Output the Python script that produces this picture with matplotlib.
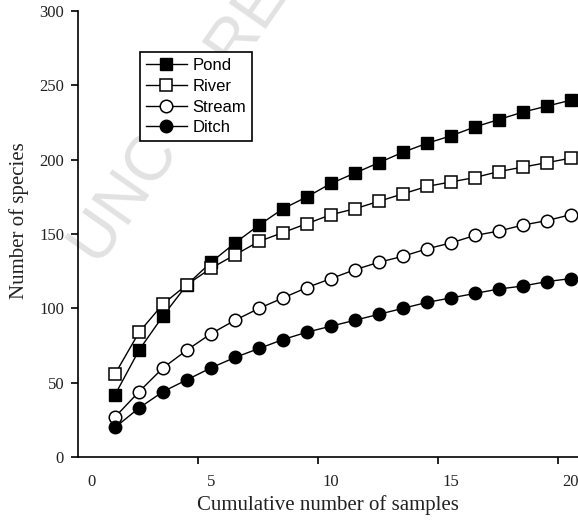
import matplotlib
matplotlib.use("Agg")
import matplotlib.pyplot as plt
import numpy as np

samples = list(range(1, 21))
pond = [42, 72, 95, 116, 131, 144, 156, 167, 175, 184, 191, 198, 205, 211, 216, 222, 227, 232, 236, 240]
river = [56, 84, 103, 116, 127, 136, 145, 151, 157, 163, 167, 172, 177, 182, 185, 188, 192, 195, 198, 201]
stream = [27, 44, 60, 72, 83, 92, 100, 107, 114, 120, 126, 131, 135, 140, 144, 149, 152, 156, 159, 163]
ditch = [20, 33, 44, 52, 60, 67, 73, 79, 84, 88, 92, 96, 100, 104, 107, 110, 113, 115, 118, 120]

x_ticks = [0, 5, 10, 15, 20]
y_ticks = [0, 50, 100, 150, 200, 250, 300]

serif = "Liberation Serif"
sans = "Liberation Sans"

fig = plt.figure(figsize=(5.78, 5.21), dpi=100)
ax = fig.add_axes([78/578, 1-457/521, 500/578, 446/521])

# faint watermark behind everything
fig.text(100/578, 1-268/521, "UNCORRECTED PROOF", rotation=55, rotation_mode="anchor",
         color="#e2e2e2", fontsize=47, family=sans, ha="left", va="baseline", zorder=-1)
ax.patch.set_alpha(0)

ms = 9
ax.plot(samples, pond, "-s", color="black", mfc="black", mec="black", ms=ms, lw=1, label="Pond")
ax.plot(samples, river, "-s", color="black", mfc="white", mec="black", ms=ms, mew=1.1, lw=1, label="River")
ax.plot(samples, stream, "-o", color="black", mfc="white", mec="black", ms=ms, mew=1.1, lw=1, label="Stream")
ax.plot(samples, ditch, "-o", color="black", mfc="black", mec="black", ms=ms, lw=1, label="Ditch")

xmin = -0.55
ax.set_xlim(xmin, 20.3)
ax.set_ylim(0, 300)

# labels sit half a unit right of the tick marks in the original
ax.set_xticks(x_ticks)
ax.set_xticklabels([str(t) for t in x_ticks], family=serif, fontsize=12, color="#222222")
ax.tick_params(axis="x", which="major", length=0, pad=12)
ax.set_xticks([xmin + 5*k for k in range(1, 5)], minor=True)
ax.tick_params(axis="x", which="minor", length=5, width=1.2, direction="out")

ax.set_yticks(y_ticks)
ax.set_yticklabels([str(t) for t in y_ticks], family=serif, fontsize=12, color="#222222")
ax.tick_params(axis="y", length=5, width=1.2, direction="out", pad=5)

ax.spines["top"].set_visible(False)
ax.spines["right"].set_visible(False)
ax.spines["left"].set_linewidth(1.2)
ax.spines["bottom"].set_linewidth(1.2)

ax.set_xlabel("Cumulative number of samples", family=serif, fontsize=15, color="#222222", labelpad=4)
ax.set_ylabel("Number of species", family=serif, fontsize=15, color="#222222")
ax.yaxis.set_label_coords(-0.098, 0.531)

leg = ax.legend(loc="upper left", bbox_to_anchor=(140/578, 1-52/521), bbox_transform=fig.transFigure,
                borderaxespad=0, fancybox=False, framealpha=1, edgecolor="black",
                prop={"family": sans, "size": 12}, handlelength=2.45, handletextpad=0.36,
                labelspacing=0.35, borderpad=0.35)
leg.get_frame().set_linewidth(1.2)

fig.savefig("out.png", dpi=100)
